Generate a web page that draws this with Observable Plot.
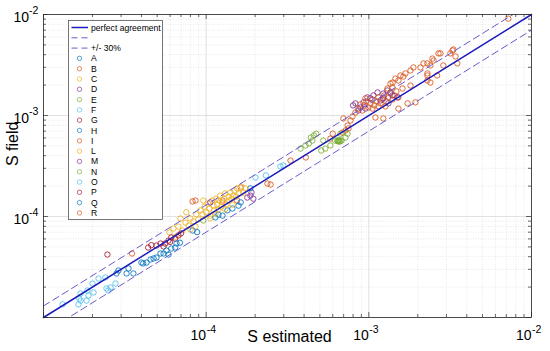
<!DOCTYPE html>
<html><head><meta charset="utf-8">
<script src="https://cdn.jsdelivr.net/npm/d3@7"></script>
<script src="https://cdn.jsdelivr.net/npm/@observablehq/plot@0.6"></script>
<style>
html,body{margin:0;padding:0;background:#fff;}
#chart{position:relative;width:550px;height:351px;}
</style></head><body><div id="chart"></div>
<script>
// ---- categories / legend ----
const groupNames = ["A","B","C","D","E","F","G","H","I","L","M","N","O","P","Q","R"];
const groupColors = ["#0072BD","#D95319","#EDB120","#7E2F8E","#77AC30","#4DBEEE","#A2142F",
                     "#0072BD","#D95319","#EDB120","#7E2F8E","#77AC30","#4DBEEE","#A2142F","#0072BD","#D95319"];
const lineLabels = ["perfect agreement", "", "+/- 30%"];

// ---- series values: [S estimated, S field] ----
const A = [[2.81e-5,2.73e-5],[2.89e-5,2.92e-5],[3.24e-5,2.73e-5],[3.33e-5,3.06e-5],[3.57e-5,2.73e-5]];
const B = [[8.25e-5,1.41e-4],[8.6e-5,1.44e-4],[2.38e-4,2.12e-4],[2.49e-4,2.07e-4],[1.26e-4,1.44e-4],[1.55e-4,1.44e-4],
  [1.63e-4,1.94e-4],[3.3e-4,3.58e-4],[6.0e-4,6.6e-4],[5.8e-4,5.9e-4],[6.97e-4,9.35e-4],[7.4e-4,7.96e-4],[7.18e-4,7.1e-4],
  [7.5e-4,7.45e-4],[6.88e-4,6.78e-4],[7.71e-4,8.92e-4],[7.93e-4,9.77e-4],[8.27e-4,1.07e-3],[1.098e-3,9.55e-4],
  [1.228e-3,9.35e-4],[1.52e-3,1.17e-3],[1.73e-3,1.32e-3],[1.934e-3,1.35e-3]];
const C = [[5.95e-5,6.95e-5],[6.3e-5,7.6e-5],[6.48e-5,6.3e-5],[6.75e-5,7.95e-5],[7.15e-5,7.27e-5],[7.46e-5,8.7e-5],
  [7.8e-5,8.15e-5],[8.0e-5,9.55e-5],[8.35e-5,8.95e-5],[8.7e-5,1.05e-4],[8.95e-5,9.35e-5],[9.22e-5,1.15e-4],[9.5e-5,1.05e-4],
  [9.75e-5,1.25e-4],[1.0e-4,1.10e-4],[1.03e-4,1.34e-4],[1.05e-4,1.2e-4],[1.06e-4,1.02e-4],[1.09e-4,1.44e-4],[1.11e-4,1.28e-4],
  [1.12e-4,1.15e-4],[1.15e-4,1.5e-4],[1.17e-4,1.31e-4],[1.19e-4,1.18e-4],[1.2e-4,1.44e-4],[1.06e-4,9.55e-5],[9.6e-5,1.44e-4],
  [8.6e-5,7.95e-5]];
const D = [[1.79e-4,1.54e-4],[1.87e-4,1.61e-4],[1.95e-4,1.5e-4],[1.9e-4,1.73e-4],[1.06e-4,1.38e-4],[8.0e-4,1.26e-3],
  [8.27e-4,1.32e-3],[9.27e-4,1.35e-3],[9.8e-4,1.51e-3],[1.067e-3,1.58e-3],[1.13e-3,1.69e-3],[1.228e-3,1.65e-3],[1.3e-3,1.77e-3]];
const E = [[9.6e-5,9.13e-5],[4.08e-4,5.05e-4],[4.28e-4,5.28e-4],[4.5e-4,5.65e-4],[4.4e-4,6.05e-4],[4.6e-4,6.34e-4],
  [4.75e-4,6.6e-4],[3.8e-4,4.7e-4]];
const F = [[2.4e-5,2.49e-5],[2.44e-5,1.94e-5],[2.58e-5,1.98e-5],[2.5e-5,1.85e-5],[2.77e-5,2.17e-5],[2.01e-4,2.43e-4],
  [2.33e-4,2.55e-4],[2.98e-4,3.2e-4],[2.86e-4,3.13e-4]];
const G = [[2.47e-5,4.2e-5],[4.6e-5,5.2e-5]];
const H = [[1.19e-4,1.04e-4],[1.26e-4,1.02e-4],[1.35e-4,1.15e-4],[1.45e-4,1.2e-4],[1.58e-4,1.28e-4],[1.14e-4,9.8e-5],
  [1.63e-4,1.38e-4],[1.87e-4,1.9e-4],[8.25e-5,7.27e-5],[8.8e-5,7.0e-5]];
const I = [[3.5e-5,4.3e-5],[4.1e-4,3.84e-4],[8.63e-4,1.17e-3],[8.88e-4,1.29e-3],[9.13e-4,1.12e-3],[9.4e-4,1.26e-3],
  [9.66e-4,1.38e-3],[9.95e-4,1.2e-3],[1.023e-3,1.32e-3],[1.052e-3,1.44e-3],[1.082e-3,1.26e-3],[1.113e-3,1.38e-3],
  [1.145e-3,1.51e-3],[1.179e-3,1.32e-3],[1.21e-3,1.44e-3],[1.245e-3,1.58e-3],[1.28e-3,1.38e-3],[1.32e-3,1.51e-3],
  [1.358e-3,1.65e-3],[1.397e-3,1.44e-3],[1.437e-3,1.58e-3],[1.478e-3,1.73e-3],[1.52e-3,1.51e-3],[1.052e-3,1.17e-3],
  [1.145e-3,1.23e-3],[1.265e-3,1.23e-3],[9.53e-4,1.48e-3]];
const L = [[1.22e-4,1.61e-4],[1.24e-4,1.25e-4],[1.26e-4,1.38e-4],[1.29e-4,1.5e-4],[1.31e-4,1.69e-4],[1.33e-4,1.31e-4],
  [1.37e-4,1.57e-4],[1.39e-4,1.44e-4],[1.41e-4,1.73e-4],[1.43e-4,1.5e-4],[1.47e-4,1.61e-4],[1.49e-4,1.81e-4],[1.53e-4,1.57e-4],
  [1.55e-4,1.9e-4],[1.6e-4,1.69e-4],[1.65e-4,1.98e-4],[1.69e-4,1.73e-4],[1.74e-4,1.9e-4],[8.0e-5,7.45e-5],[1.14e-4,1.07e-4],
  [1.31e-4,1.18e-4],[1.45e-4,1.31e-4],[6.95e-5,9.55e-5],[7.55e-5,1.10e-4]];
const M = [[1.358e-3,1.69e-3],[1.397e-3,1.58e-3],[1.5e-3,1.51e-3],[1.228e-3,1.48e-3],[1.179e-3,1.41e-3],[1.023e-3,1.48e-3],
  [8.88e-4,1.2e-3],[8.63e-4,1.12e-3],[9.53e-4,1.17e-3],[1.32e-3,1.32e-3]];
const N = [[5.25e-4,5.65e-4],[5.4e-4,4.7e-4],[5.8e-4,5.05e-4],[6.2e-4,5.65e-4],[6.4e-4,5.65e-4],[6.5e-4,5.6e-4],
  [6.6e-4,5.5e-4],[6.8e-4,5.65e-4],[7.18e-4,6.05e-4],[7.4e-4,6.6e-4],[6.69e-4,6.6e-4],[5.1e-4,4.5e-4],[6.45e-4,5.55e-4],
  [6.55e-4,5.7e-4],[6.7e-4,5.6e-4]];
const O = [[1.31e-5,1.35e-5],[1.66e-5,1.54e-5],[1.69e-5,1.47e-5],[1.64e-5,1.35e-5],[1.69e-5,1.73e-5],[1.86e-5,1.85e-5],
  [1.89e-5,1.65e-5],[1.84e-5,1.47e-5],[2.03e-5,1.77e-5],[2.0e-5,2.17e-5],[2.18e-5,2.43e-5]];
const P = [[4.95e-5,5.16e-5],[5.24e-5,5.4e-5],[5.6e-5,5.4e-5],[5.87e-5,5.78e-5],[6.1e-5,6.2e-5],[6.45e-5,6.05e-5],
  [6.75e-5,6.5e-5],[5.47e-5,5.05e-5],[4.4e-5,4.93e-5],[6.0e-5,5.6e-5],[7.0e-5,6.8e-5]];
const Q = [[4.0e-5,3.5e-5],[4.1e-5,3.43e-5],[4.3e-5,3.5e-5],[4.55e-5,3.75e-5],[4.75e-5,3.84e-5],[4.95e-5,3.92e-5],
  [5.24e-5,4.3e-5],[5.47e-5,4.3e-5],[5.7e-5,4.6e-5],[5.87e-5,4.2e-5],[6.1e-5,4.82e-5],[6.45e-5,4.93e-5],[6.57e-5,5.4e-5],
  [6.9e-5,5.5e-5]];
const R = [[1.358e-3,2.07e-3],[1.457e-3,2.32e-3],[1.564e-3,2.49e-3],[1.52e-3,2.22e-3],[1.679e-3,2.61e-3],[1.803e-3,2.79e-3],
  [2.077e-3,2.99e-3],[2.17e-3,3.28e-3],[1.397e-3,1.89e-3],[1.61e-3,1.85e-3],[1.803e-3,1.98e-3],[1.3e-3,1.85e-3],
  [1.4e-3,2.12e-3],[1.63e-3,2.43e-3],[1.88e-3,2.99e-3],[2.29e-3,3.28e-3],[2.39e-3,3.13e-3],[2.87e-3,3.13e-3],
  [2.46e-3,3.66e-3],[2.5e-3,3.5e-3],[2.68e-3,4.12e-3],[2.755e-3,4.12e-3],[3.17e-3,4.12e-3],[3.27e-3,4.4e-3],
  [3.31e-3,4.5e-3],[3.41e-3,3.84e-3],[3.5e-3,3.28e-3],[2.29e-3,2.49e-3],[2.63e-3,2.49e-3],[2.29e-3,2.61e-3],
  [2.29e-3,2.22e-3],[2.39e-3,2.12e-3],[7.2e-3,9.1e-3]];

// ---- tick labels & reference lines ----
const xTickLabels = [1e-4, 1e-3, 1e-2];
const yTickLabels = [1e-4, 1e-3, 1e-2];
const decadeStarts = [1e-5, 1e-4, 1e-3];
const refX = [1e-5, 1e-2];
const band = 0.3;

const groupData = {A,B,C,D,E,F,G,H,I,L,M,N,O,P,Q,R};
const rows = groupNames.flatMap(g => groupData[g].map(([x, y]) => ({x, y, g})));
const majorTicks = [1e-5, 1e-4, 1e-3, 1e-2];
const minorTicks = decadeStarts.flatMap(d => [2,3,4,5,6,7,8,9].map(m => m * d));

const FONT = "'Liberation Sans', Arial, Helvetica, sans-serif";
const W = 550, Hh = 351, mL = 43, mR = 19, mT = 14, mB = 34;
const fw = W - mL - mR, fh = Hh - mT - mB;
const AX = "#262626";
const exp = d => String(Math.round(Math.log10(d)));

const chart = Plot.plot({
  width: W, height: Hh, marginLeft: mL, marginRight: mR, marginTop: mT, marginBottom: mB,
  style: {fontFamily: FONT, background: "#fff", color: "#000"},
  x: {type: "log", domain: [1e-5, 1e-2], axis: null},
  y: {type: "log", domain: [1e-5, 1e-2], axis: null},
  color: {domain: groupNames, range: groupColors},
  marks: [
    Plot.ruleX(minorTicks, {x: d => d, stroke: "#d8d8d8", strokeWidth: 0.6, strokeDasharray: "1,1.5"}),
    Plot.ruleY(minorTicks, {y: d => d, stroke: "#d8d8d8", strokeWidth: 0.6, strokeDasharray: "1,1.5"}),
    Plot.ruleX(majorTicks, {x: d => d, stroke: "#d4d4d4", strokeWidth: 0.7}),
    Plot.ruleY(majorTicks, {y: d => d, stroke: "#d4d4d4", strokeWidth: 0.7}),
    Plot.dot(rows, {x: "x", y: "y", stroke: "g", r: 2.7, strokeWidth: 1, strokeOpacity: 0.85}),
    Plot.line(refX, {x: d => d, y: d => d, stroke: "#1c1cbc", strokeWidth: 1.5}),
    Plot.line(refX, {x: d => d, y: d => d * (1 + band), stroke: "#6a5acd", strokeWidth: 1, strokeDasharray: "7,4", clip: true}),
    Plot.line(refX, {x: d => d, y: d => d * (1 - band), stroke: "#6a5acd", strokeWidth: 1, strokeDasharray: "7,4", clip: true}),
    Plot.frame({stroke: AX, strokeWidth: 0.8}),
    // inside ticks, all four sides
    Plot.ruleX(minorTicks, {x: d => d, insetTop: fh - 3, stroke: AX, strokeWidth: 0.7}),
    Plot.ruleX(minorTicks, {x: d => d, insetBottom: fh - 3, stroke: AX, strokeWidth: 0.7}),
    Plot.ruleX(majorTicks, {x: d => d, insetTop: fh - 5, stroke: AX, strokeWidth: 0.7}),
    Plot.ruleX(majorTicks, {x: d => d, insetBottom: fh - 5, stroke: AX, strokeWidth: 0.7}),
    Plot.ruleY(minorTicks, {y: d => d, insetRight: fw - 3, stroke: AX, strokeWidth: 0.7}),
    Plot.ruleY(minorTicks, {y: d => d, insetLeft: fw - 3, stroke: AX, strokeWidth: 0.7}),
    Plot.ruleY(majorTicks, {y: d => d, insetRight: fw - 5, stroke: AX, strokeWidth: 0.7}),
    Plot.ruleY(majorTicks, {y: d => d, insetLeft: fw - 5, stroke: AX, strokeWidth: 0.7}),
    // tick labels
    Plot.text(xTickLabels, {x: d => d, frameAnchor: "bottom", text: () => "10", textAnchor: "end", lineAnchor: "middle", dy: 18.5, dx: 0, fontSize: 14, fill: "#000"}),
    Plot.text(xTickLabels, {x: d => d, frameAnchor: "bottom", text: exp, textAnchor: "start", lineAnchor: "middle", dy: 12.5, dx: 0.5, fontSize: 10.5, fill: "#000"}),
    Plot.text(yTickLabels, {y: d => d, frameAnchor: "left", text: () => "10", textAnchor: "end", lineAnchor: "middle", dx: -14.5, dy: 3, fontSize: 14, fill: "#000"}),
    Plot.text(yTickLabels, {y: d => d, frameAnchor: "left", text: exp, textAnchor: "start", lineAnchor: "middle", dx: -14.5, dy: -4, fontSize: 10.5, fill: "#000"}),
    // axis titles
    Plot.text(["S estimated"], {frameAnchor: "bottom", text: d => d, lineAnchor: "middle", dy: 19, dx: 2, fontSize: 16, fill: "#000"}),
    Plot.text(["S field"], {frameAnchor: "left", text: d => d, rotate: -90, lineAnchor: "middle", dx: -31, fontSize: 16, fill: "#000"})
  ]
});
document.getElementById("chart").appendChild(chart);

// ---- legend (inside the axes, top-left) ----
const svg = d3.select(chart);
const lg = svg.append("g").attr("font-family", FONT).attr("font-size", 8.6).attr("text-anchor", "start").attr("fill", "#000");
const lx = 68.5, ly = 20.5, rowH = 10.3, row0 = 27.5;
lg.append("rect").attr("x", lx).attr("y", ly).attr("width", 94).attr("height", 199)
  .attr("fill", "#fff").attr("stroke", "#555").attr("stroke-width", 0.8);
lineLabels.forEach((t, i) => {
  const y = row0 + i * rowH;
  lg.append("line").attr("x1", 71.5).attr("x2", 88).attr("y1", y).attr("y2", y)
    .attr("stroke", i === 0 ? "#1c1cbc" : "#6a5acd").attr("stroke-width", i === 0 ? 1.5 : 1)
    .attr("stroke-dasharray", i === 0 ? null : "6,4");
  if (t) lg.append("text").attr("x", 91).attr("y", y).attr("dy", "0.35em").attr("text-anchor", "start").text(t);
});
groupNames.forEach((g, i) => {
  const y = row0 + (i + 3) * rowH;
  lg.append("circle").attr("cx", 79.5).attr("cy", y).attr("r", 2.2).attr("fill", "none")
    .attr("stroke", groupColors[i]).attr("stroke-opacity", 0.75).attr("stroke-width", 0.9);
  lg.append("text").attr("x", 91).attr("y", y).attr("dy", "0.35em").attr("text-anchor", "start").text(g);
});
</script></body></html>
